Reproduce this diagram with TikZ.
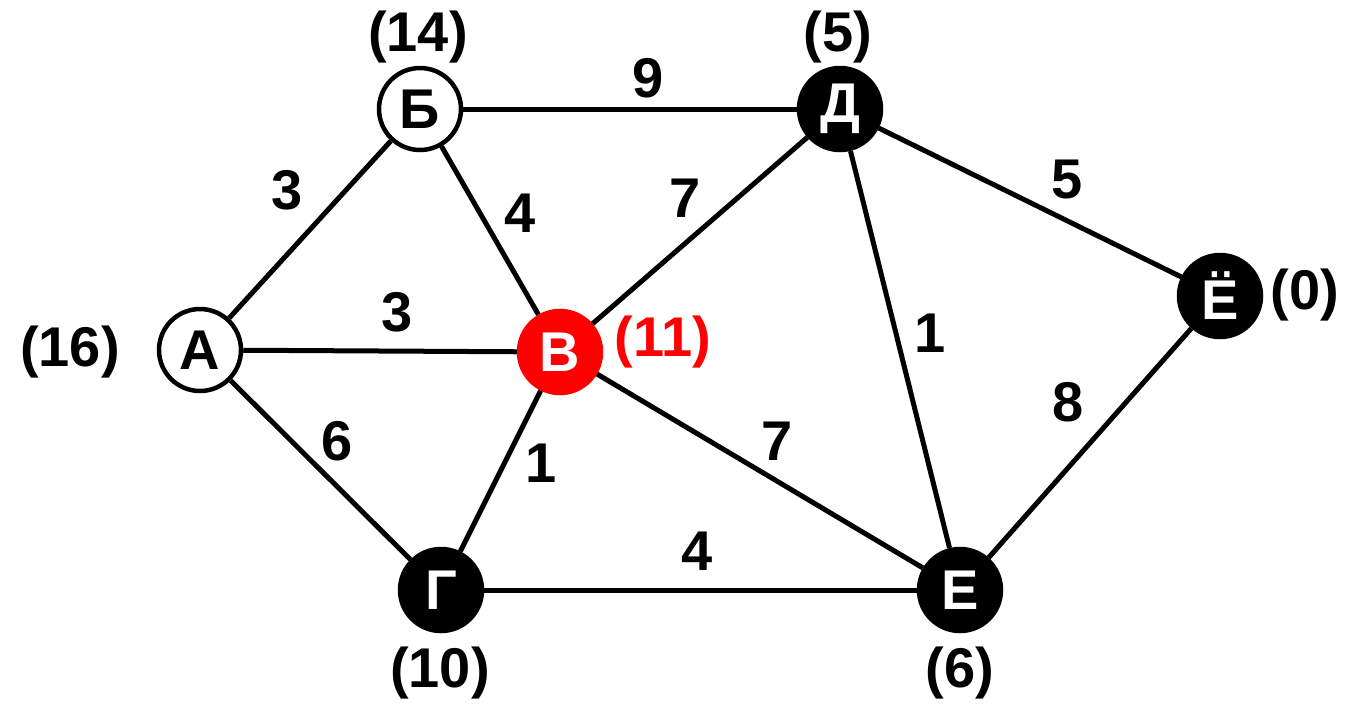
\documentclass[tikz,border=0pt]{standalone}
\usepackage{fontspec}
\setmainfont{Liberation Sans}
\begin{document}
\begin{tikzpicture}[x=1pt,y=-1pt,
  vtx/.style={circle,minimum size=82pt,inner sep=0pt,line width=4.5pt,font=\fontsize{56}{56}\selectfont\bfseries},
  wv/.style={vtx,draw=black,fill=white,text=black},
  bv/.style={vtx,draw=black,fill=black,text=white},
  rv/.style={vtx,draw=red,fill=red,text=white},
  lbl/.style={font=\fontsize{56}{56}\selectfont\bfseries,inner sep=0pt},
  edge/.style={line width=5pt}]
\useasboundingbox (0,0) rectangle (1347,705);
\node[wv] (A) at (200,350) {А};
\node[wv] (B) at (420,109) {Б};
\node[rv] (V) at (560,352) {В};
\node[bv] (G) at (441,590) {Г};
\node[bv] (D) at (840,109) {Д};
\node[bv] (E) at (960,590) {Е};
\node[bv] (Y) at (1220,296) {Ё};
\draw[edge] (A) -- (B);
\draw[edge] (A) -- (V);
\draw[edge] (A) -- (G);
\draw[edge] (B) -- (V);
\draw[edge] (B) -- (D);
\draw[edge] (V) -- (D);
\draw[edge] (V) -- (E);
\draw[edge] (V) -- (G);
\draw[edge] (G) -- (E);
\draw[edge] (D) -- (E);
\draw[edge] (D) -- (Y);
\draw[edge] (E) -- (Y);
\node[lbl] (lAB) at (287,190) {3};
\node[lbl] (lAV) at (397,312) {3};
\node[lbl] (lAG) at (337,441) {6};
\node[lbl] (lBV) at (520,213) {4};
\node[lbl] (lBD) at (648,78) {9};
\node[lbl] (lVD) at (685,198) {7};
\node[lbl] (lDY) at (1067,180) {5};
\node[lbl] (lDE) at (930,333) {1};
\node[lbl] (lVE) at (777,441) {7};
\node[lbl] (lVG) at (541,463) {1};
\node[lbl] (lGE) at (697,551) {4};
\node[lbl] (lEY) at (1068,402) {8};
\node[lbl] (wA) at (70,352) {(16)};
\node[lbl] (wB) at (418,37) {(14)};
\node[lbl,text=red] (wV) at (663,342) {(11)};
\node[lbl] (wG) at (440,673) {(10)};
\node[lbl] (wD) at (838,37) {(5)};
\node[lbl] (wE) at (960,673) {(6)};
\node[lbl] (wY) at (1305,295) {(0)};
\end{tikzpicture}
\end{document}
